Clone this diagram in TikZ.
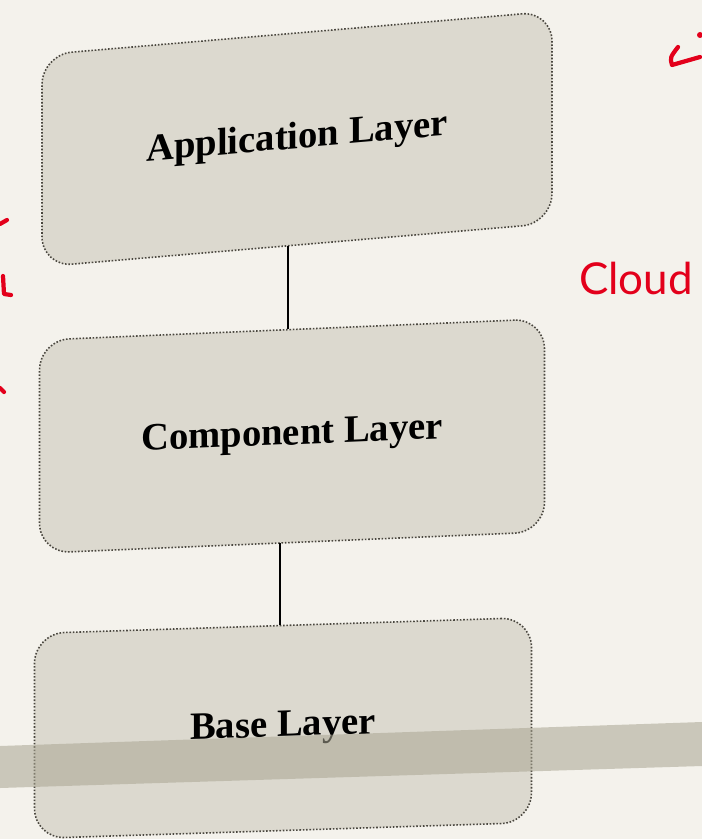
\documentclass[tikz,border=0pt]{standalone}
\usepackage{fontspec}
\setmainfont{Liberation Serif}
\newfontfamily\handfont{Lato}
\usepackage{xcolor}
\usetikzlibrary{positioning}

\definecolor{paper}{HTML}{F4F2EC}
\definecolor{layerfill}{HTML}{DCD9CF}
\definecolor{layerline}{HTML}{4A473F}
\definecolor{bandgrey}{HTML}{A9A592}
\definecolor{inkred}{HTML}{E3001B}

\begin{document}
\begin{tikzpicture}[
			layer/.style={
				rectangle, draw=layerline, densely dotted, line width=0.9pt,
				fill=layerfill, rounded corners=0.6cm,
				align=center, font=\bfseries\fontsize{22}{26}\selectfont
			},
			link/.style={black, line width=0.8pt},
			ink/.style={inkred, line width=2.4pt, line cap=round, line join=round}
			]
			% page
			\fill[paper] (0,0) rectangle (14.04,-16.78);
			\useasboundingbox (0,0) rectangle (14.04,-16.78);

			% the three layers
			\node[layer, minimum width=10.2cm, minimum height=4.24cm, yslant=0.085] (app) at (5.94,-2.78) {Application Layer};
			\node[layer, minimum width=10.1cm, minimum height=4.26cm, yslant=0.042] (comp) at (5.84,-8.72) {Component Layer};
			\node[layer, minimum width=9.94cm, minimum height=4.1cm, yslant=0.032] (base) at (5.66,-14.56) {Base Layer};
			\draw[link] ([xshift=-0.18cm]app.south) -- ([xshift=-0.18cm]app.south |- comp.north);
			\draw[link] ([xshift=-0.24cm]comp.south) -- ([xshift=-0.24cm]comp.south |- base.north);

			% grey strip across the bottom
			\fill[bandgrey, opacity=0.55] (0,-14.92) -- (14.04,-14.44) -- (14.04,-15.32) -- (0,-15.76) -- cycle;

			% notes in red pen
			\node[inkred, font=\handfont\fontsize{25}{28}\selectfont] (note) at (12.72,-5.56) {Cloud};
			\draw[ink] (13.56,-0.94) .. controls (13.40,-1.15) .. (13.44,-1.30) -- (14.0,-1.14);
			\fill[inkred] (14.0,-0.70) circle (0.06);
			\draw[ink] (0,-4.48) -- (0.14,-4.40);
			\draw[ink] (0.06,-5.52) -- (0.08,-5.88) -- (0.22,-5.90);
			\draw[ink] (0,-7.76) -- (0.08,-7.84);
		\end{tikzpicture}
\end{document}
